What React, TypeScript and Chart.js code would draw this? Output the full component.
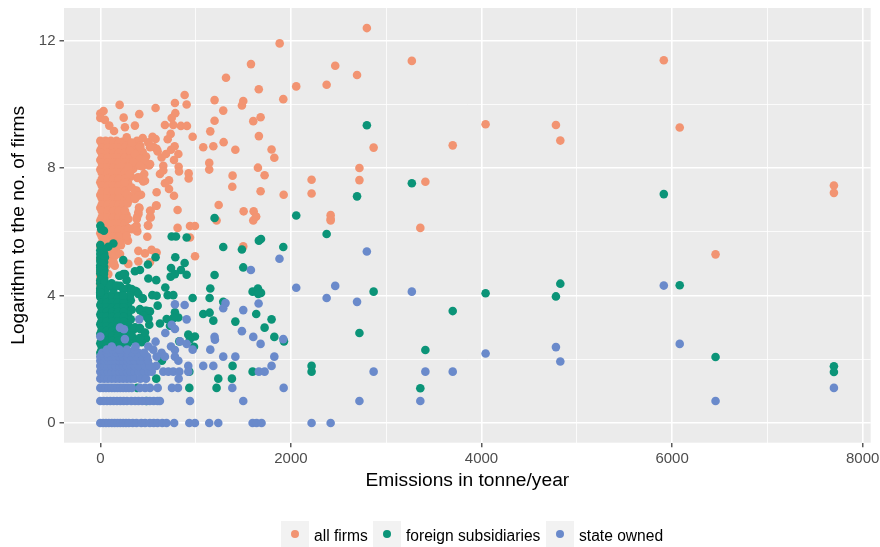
import React, { useEffect, useRef } from "react";
import { Chart, registerables } from "chart.js";

Chart.register(...registerables);

type P = [number, number];

const xMajorTicks = [0, 2000, 4000, 6000, 8000];
const xMinorTicks = [1000, 3000, 5000, 7000];
const yMajorTicks = [0, 4, 8, 12];
const yMinorTicks = [2, 6, 10];
const seriesNames = ["all firms", "foreign subsidiaries", "state owned"];
const seriesColors = ["#F29472", "#0B9478", "#6A8ACB"];

const allFirmsSparse: P[] = [
  [2797,12.39],[3269,11.36],[2694,10.92],[5913,11.38],[2868,8.64],[3698,8.71],[4043,9.37],[4781,9.35],[4827,8.86],[6080,9.27],
  [2719,8.0],[2719,7.62],[3411,7.57],[7698,7.45],[7698,7.22],[3358,6.12],[6456,5.29],
  [1882,11.91],[1581,11.26],[2465,11.21],[1319,10.83],[2056,10.56],[2375,10.61],[1663,10.47],[1920,10.16],[885,10.29],[1199,10.13],
  [1500,10.10],[1486,9.96],[783,10.04],[906,9.99],[203,9.98],[580,9.88],[1290,9.80],[34,9.79],[0,9.71],[409,9.69],[787,9.72],
  [0,9.57],[245,9.58],[48,9.51],[749,9.57],[1682,9.59],[1605,9.47],[1199,9.48],[94,9.33],[363,9.33],[258,9.28],[144,9.16],
  [678,9.35],[766,9.35],[846,9.32],[909,9.32],[738,9.07],[969,8.98],[707,8.90],[1154,9.15],[1664,9.0],[1294,8.81],[1080,8.65],
  [1186,8.68],[1417,8.57],[1797,8.58],[1826,8.32],[780,8.68],[742,8.57],[819,8.44],[773,8.25],[1143,8.16],[1143,7.95],[1654,8.01],
  [1724,7.77],[1388,7.76],[1385,7.41],[1682,7.27],[1924,7.16],[2217,7.63],[2217,7.20],[2417,6.52],[2417,6.40],[1242,6.84],
  [1504,6.64],[1609,6.64],[1634,6.48],[822,8.04],[826,7.89],[927,7.83],[927,7.67],[591,7.24],[773,7.13],[721,7.34],[721,7.61],
  [678,7.52],[661,8.07],[661,7.92],[626,7.81],[643,8.33],[689,8.44],[591,8.60],[602,8.52],[580,8.91],[548,8.98],[445,8.94],
  [511,8.08],[441,8.05],[461,7.81],[434,7.71],[451,7.58],[388,7.69],[381,7.29],[427,7.16],[360,7.05],[286,6.89],[406,6.76],
  [399,6.61],[385,6.45],[528,6.66],[521,6.45],[591,6.82],[811,6.68],[811,6.12],[941,6.18],[993,6.18],[500,6.2],[381,6.19],
  [388,6.01],[493,5.84],[941,5.82],[290,5.72],[217,5.58],[399,5.40],[469,5.32],[538,5.43],[591,5.35],[994,5.23],[399,5.07],
  [294,4.99],[137,5.04],[521,5.04],[66,4.69],[1500,5.54],[1220,6.35],[1605,6.35],[1634,6.47],[2417,6.35],[154,5.30],
  [277,8.96],[329,8.8],[504,8.8],[417,8.65],[522,8.65],[312,8.54],[364,8.44],[417,8.28],[469,8.23],[522,8.12],[347,8.18],
  [294,8.02],[417,8.07],[312,7.81],[259,7.55],[329,7.39],[277,7.18],[312,7.03],[259,6.66],[294,6.4],[329,6.08],[294,6.08],
  [277,5.87],[364,6.14],[382,6.03],[410,6.74],[399,6.55],[382,6.4],[522,6.66],[529,6.45],[585,6.82],[504,6.19],[364,7.29],
  [399,7.13],[364,7.03],[434,7.65],[469,7.6],[399,7.71],[154,5.25],[207,5.3],[137,5.04],[84,4.67],
];

const allFirmsDense: P[] = [
  [0,8.85],[55,8.85],[110,8.85],[170,8.85],[230,8.82],[290,8.82],[385,8.85],[505,8.8],
  [30,8.7],[90,8.72],[150,8.68],[210,8.7],[270,8.74],[340,8.66],[420,8.7],[560,8.66],
  [0,8.55],[60,8.55],[120,8.55],[180,8.55],[240,8.58],[300,8.52],[360,8.56],[445,8.5],
  [30,8.4],[90,8.4],[150,8.4],[210,8.4],[270,8.42],[330,8.38],[400,8.42],[480,8.36],
  [0,8.25],[60,8.25],[120,8.25],[180,8.25],[240,8.25],[300,8.25],[360,8.22],[430,8.28],
  [30,8.1],[90,8.1],[150,8.1],[210,8.1],[270,8.1],[330,8.12],[392,8.08],
  [0,7.95],[60,7.95],[120,7.95],[180,7.95],[240,7.95],[300,7.93],[345,7.97],
  [30,7.75],[90,7.75],[150,7.75],[210,7.75],[270,7.77],[318,7.73],
  [0,7.55],[60,7.55],[120,7.55],[180,7.55],[240,7.55],[292,7.53],
  [30,7.35],[90,7.35],[150,7.35],[210,7.35],[272,7.36],
  [0,7.15],[60,7.15],[120,7.15],[180,7.15],[240,7.15],[305,7.13],
  [30,6.95],[90,6.95],[150,6.95],[210,6.95],[262,6.97],
  [0,6.75],[60,6.75],[120,6.75],[180,6.75],[240,6.75],
  [30,6.55],[90,6.55],[150,6.55],[210,6.55],[275,6.53],
  [0,6.35],[60,6.35],[120,6.35],[180,6.35],[242,6.36],
  [30,6.15],[90,6.15],[150,6.15],[210,6.15],[283,6.13],
  [0,5.95],[60,5.95],[120,5.95],[180,5.95],[244,5.93],
  [30,5.75],[90,5.75],[150,5.75],[222,5.78],
  [0,5.55],[60,5.55],[120,5.55],[172,5.52],
  [30,5.35],[90,5.35],[128,5.33],
  [0,5.15],[58,5.15],[102,5.17],
  [22,4.95],[72,4.96],[152,4.93],
  [0,4.75],[42,4.72],[10,4.55],[0,4.35],[0,4.2],
];

const allFirmsFill: P[] = [
  [15,8.78],[75,8.78],[135,8.78],[195,8.78],[255,8.78],
  [15,8.63],[75,8.63],[135,8.63],[195,8.63],[255,8.63],[315,8.63],
  [15,8.47],[75,8.47],[135,8.47],[195,8.47],[255,8.47],[315,8.47],[380,8.47],
  [15,8.32],[75,8.32],[135,8.32],[195,8.32],[255,8.32],[315,8.32],[375,8.32],
  [15,8.17],[75,8.17],[135,8.17],[195,8.17],[255,8.17],[315,8.17],[375,8.17],
  [15,8.02],[75,8.02],[135,8.02],[195,8.02],[255,8.02],[315,8.02],
  [15,7.85],[75,7.85],[135,7.85],[195,7.85],[255,7.85],[300,7.85],
  [15,7.65],[75,7.65],[135,7.65],[195,7.65],[255,7.65],
  [15,7.45],[75,7.45],[135,7.45],[195,7.45],[255,7.45],
  [15,7.25],[75,7.25],[135,7.25],[195,7.25],[255,7.25],
  [15,7.05],[75,7.05],[135,7.05],[195,7.05],[255,7.05],
  [15,6.85],[75,6.85],[135,6.85],[195,6.85],[240,6.85],
  [15,6.65],[75,6.65],[135,6.65],[195,6.65],[250,6.65],
  [15,6.45],[75,6.45],[135,6.45],[195,6.45],[250,6.45],
  [15,6.25],[75,6.25],[135,6.25],[195,6.25],[255,6.25],
  [15,6.05],[75,6.05],[135,6.05],[195,6.05],[255,6.05],
  [15,5.85],[75,5.85],[135,5.85],[195,5.85],
  [15,5.65],[75,5.65],[135,5.65],[190,5.65],
  [15,5.45],[75,5.45],[135,5.45],
  [15,5.25],[75,5.25],[120,5.25],
  [15,5.05],[75,5.05],[110,5.05],
  [15,4.85],[50,4.85],[0,4.62],[0,4.48],
];

const foreignSparse: P[] = [
  [2797,9.34],[3269,7.52],[5913,7.18],[2694,7.11],[4827,4.37],[6080,4.32],[2868,4.12],[4043,4.07],[4781,3.97],[3698,3.51],
  [2719,2.82],[3411,2.29],[6456,2.07],[7698,1.78],[7698,1.60],[3358,1.09],
  [1199,6.43],[2056,6.51],[2375,5.93],[1664,5.72],[1686,5.77],[1920,5.52],[1290,5.52],[1486,5.44],
  [0,6.19],[10,6.08],[38,6.03],[749,5.85],[794,5.85],[906,5.82],[0,5.58],[137,5.63],[84,5.53],[31,5.46],[0,5.3],[48,5.2],
  [580,5.2],[787,5.2],[500,4.97],[241,5.11],[885,5.02],[1500,4.88],[742,4.86],[846,4.80],[416,4.8],[363,4.76],
  [17,5.01],[0,4.8],[38,4.67],[1199,4.64],[738,4.59],[783,4.67],[906,4.65],[241,4.67],[199,4.62],[276,4.48],
  [504,4.53],[587,4.48],[0,4.48],[48,4.41],[119,4.38],[207,4.3],[682,4.25],[1154,4.22],[0,4.23],[0,4.1],[294,4.23],[381,4.12],[137,4.2],
  [1654,4.22],[1598,4.12],[1686,4.08],[1657,4.05],[546,4.01],[591,3.99],[707,4.01],[766,4.01],[969,3.92],[1147,3.92],[445,3.90],
  [1290,3.80],[602,3.68],[783,3.47],[1080,3.42],[1147,3.46],[416,3.57],[521,3.5],[469,3.52],[819,3.31],[696,3.26],[766,3.29],[626,3.12],
  [1186,3.21],[1636,3.42],[1797,3.25],[1417,3.18],[1724,2.99],[514,3.08],[469,3.37],[504,3.29],[731,3.05],[923,2.77],[993,2.71],
  [1826,2.7],[1927,2.56],[941,2.63],[829,2.56],[983,2.39],[479,2.65],[374,2.56],[416,2.98],[346,2.92],[434,2.53],
  [647,1.95],[1388,1.79],[2217,1.79],[2217,1.61],[1598,1.61],[1238,1.39],[1381,1.39],[587,1.39],[934,1.61],[934,1.10],[1220,1.10],[388,1.10],[451,1.61],[486,0.69],
  [207,4.62],[259,4.67],[102,4.31],[172,4.31],[242,4.2],[329,4.2],[364,4.15],[399,4.05],[312,4.0],[242,4.0],
  [445,3.91],[417,3.54],[487,3.52],[452,3.37],[504,3.26],[364,3.0],[417,2.95],[347,2.67],[417,2.67],[469,2.84],[312,2.74],
];

const foreignDense: P[] = [
  [0,4.0],[50,4.0],[110,4.0],[170,4.0],[230,4.02],[302,3.98],
  [25,3.85],[80,3.85],[140,3.85],[200,3.85],[262,3.87],[320,3.85],
  [0,3.7],[50,3.7],[110,3.7],[170,3.7],[232,3.68],[290,3.7],
  [25,3.55],[80,3.55],[140,3.55],[200,3.55],[272,3.53],[330,3.55],
  [0,3.4],[50,3.4],[110,3.4],[170,3.4],[228,3.42],[290,3.4],
  [25,3.25],[80,3.25],[140,3.25],[200,3.25],[252,3.27],[320,3.25],
  [0,3.1],[50,3.1],[110,3.1],[170,3.1],[230,3.08],[290,3.1],
  [25,2.95],[80,2.95],[140,2.95],[200,2.95],[300,2.93],[260,2.95],
  [0,2.8],[50,2.8],[110,2.8],[170,2.8],[250,2.82],[310,2.8],
  [25,2.65],[80,2.65],[140,2.65],[200,2.65],[260,2.65],
  [0,2.5],[50,2.5],[110,2.5],[170,2.5],[230,2.48],[290,2.5],
  [25,2.35],[80,2.35],[140,2.35],[200,2.35],[260,2.35],
  [0,2.2],[50,2.2],[110,2.2],[170,2.2],
  [0,3.95],[0,4.15],[30,4.1],[0,4.7],[15,4.6],[0,4.95],[20,5.1],
];

const foreignFill: P[] = [
  [12,3.93],[65,3.93],[125,3.93],[185,3.93],[245,3.93],
  [12,3.78],[65,3.78],[125,3.78],[185,3.78],[245,3.78],
  [12,3.63],[65,3.63],[125,3.63],[185,3.63],[245,3.63],
  [12,3.48],[65,3.48],[125,3.48],[185,3.48],[245,3.48],
  [12,3.33],[65,3.33],[125,3.33],[185,3.33],[245,3.33],
  [12,3.18],[65,3.18],[125,3.18],[185,3.18],[245,3.18],
  [12,3.03],[65,3.03],[125,3.03],[185,3.03],[245,3.03],
  [12,2.88],[65,2.88],[125,2.88],[185,2.88],[235,2.88],
  [12,2.73],[65,2.73],[125,2.73],[185,2.73],
  [12,2.58],[65,2.58],[125,2.58],[185,2.58],[245,2.58],
  [12,2.43],[65,2.43],[125,2.43],[185,2.43],
  [12,2.28],[65,2.28],[125,2.28],[185,2.28],
  [0,5.42],[40,5.32],[0,5.18],[40,5.05],[0,5.08],[40,4.9],[0,4.88],[42,4.78],[10,4.55],[40,4.53],[0,4.38],[40,4.3],[55,4.18],[0,4.05],
];

const stateSparse: P[] = [
  [2797,5.38],[5913,4.31],[3269,4.12],[2694,3.80],[6080,2.48],[4781,2.38],[4043,2.18],[4827,1.93],
  [2868,1.61],[3411,1.61],[3698,1.61],[7698,1.10],[2719,0.69],[3358,0.69],[6456,0.69],
  [1880,5.15],[1580,4.8],[2056,4.24],[2465,4.30],[2375,3.92],[1314,3.76],[1290,3.6],[1661,3.75],[783,3.72],[885,3.70],
  [1500,3.54],[906,3.25],[409,3.25],[207,2.99],[248,2.94],[749,3.08],[783,2.95],[682,2.82],[1486,2.88],[0,2.71],[258,2.63],
  [1199,2.7],[1203,2.61],[1605,2.7],[1682,2.48],[1920,2.63],[580,2.55],[836,2.56],[906,2.48],[969,2.3],[1154,2.3],[742,2.4],[783,2.29],
  [504,2.4],[556,2.3],[1290,2.08],[1417,2.08],[1826,2.08],[643,2.2],[591,2.08],[678,2.08],[783,2.08],[819,1.95],
  [923,1.79],[1080,1.79],[1186,1.79],[1797,1.79],[587,1.79],[923,1.61],[661,1.61],[714,1.61],[766,1.61],[829,1.61],[1664,1.61],[1724,1.61],
  [822,1.39],[752,1.10],[815,1.10],[602,1.10],[521,1.10],[470,1.10],[416,1.10],[1385,1.10],[1924,1.10],[941,0.69],[1500,0.69],
  [0,0],[30,0],[60,0],[90,0],[120,0],[150,0],[180,0],[210,0],[240,0],[270,0],[300,0],[340,0],[380,0],[430,0],[470,0],[520,0],[560,0],[600,0],[650,0],[695,0],
  [775,0],[934,0],[993,0],[1143,0],[1238,0],[1598,0],[1640,0],[1692,0],[2217,0],[2417,0],
  [0,0.69],[35,0.69],[70,0.69],[105,0.69],[140,0.69],[175,0.69],[210,0.69],[245,0.69],[280,0.69],[325,0.69],[365,0.69],[400,0.69],[440,0.69],[480,0.69],[520,0.69],[560,0.69],[600,0.69],[625,0.69],
  [0,1.10],[30,1.10],[60,1.10],[90,1.10],[120,1.10],[150,1.10],[180,1.10],[210,1.10],[240,1.10],[270,1.10],[300,1.10],[330,1.10],
  [0,1.39],[40,1.39],[80,1.39],[120,1.39],[160,1.39],[200,1.39],[240,1.39],[280,1.39],[320,1.39],[360,1.39],[420,1.39],[480,1.39],
  [0,1.61],[40,1.61],[80,1.61],[120,1.61],[160,1.61],[200,1.61],[240,1.61],[280,1.61],[320,1.61],[360,1.61],[400,1.61],[460,1.61],[505,1.61],[540,1.61],
  [0,1.79],[40,1.79],[80,1.79],[120,1.79],[160,1.79],[200,1.79],[240,1.79],[280,1.79],[320,1.79],[360,1.79],[400,1.79],[470,1.79],[520,1.79],
  [0,1.95],[40,1.95],[80,1.95],[120,1.95],[160,1.95],[200,1.95],[240,1.95],[280,1.95],[320,1.95],[360,1.95],[420,1.95],[500,1.95],
  [0,2.08],[40,2.08],[80,2.08],[120,2.08],[160,2.08],[200,2.08],[240,2.08],[280,2.08],[330,2.08],[380,2.08],[440,2.08],[490,2.08],
  [20,2.2],[70,2.2],[120,2.2],[170,2.2],[220,2.2],[280,2.2],[340,2.2],[400,2.2],[460,2.2],
  [70,2.3],[130,2.3],[200,2.3],[280,2.3],[360,2.3],[120,2.4],[370,2.4],
];

const allFirms = [...allFirmsDense, ...allFirmsFill, ...allFirmsSparse];
const foreign = [...foreignDense, ...foreignFill, ...foreignSparse];
const stateOwned = stateSparse;

const toXY = (pts: P[]) => pts.map(([x, y]) => ({ x, y }));

const LEFT = 64;
const RIGHT = 870.7;
const TOP = 8;
const BOTTOM = 442.7;

const panelBg = {
  id: "panelBg",
  beforeDraw(chart: any) {
    const { ctx, chartArea: a } = chart;
    ctx.save();
    ctx.fillStyle = "#EBEBEB";
    ctx.fillRect(a.left, a.top, a.right - a.left, a.bottom - a.top);
    ctx.restore();
  },
};

const legendKeys = [
  { left: 281, textLeft: 314 },
  { left: 373, textLeft: 406 },
  { left: 546, textLeft: 579 },
];

export default function App() {
  const ref = useRef<HTMLCanvasElement>(null);
  useEffect(() => {
    const gridFor = (major: number[]) => ({
      color: "#FFFFFF",
      lineWidth: (c: any) => (major.includes(c.tick?.value) ? 1.6 : 0.8),
      tickColor: (c: any) => (major.includes(c.tick?.value) ? "#333333" : "rgba(0,0,0,0)"),
      tickWidth: 1.2,
      tickLength: 4.5,
      drawTicks: true,
    });
    const fmt = (major: number[]) => (v: any) => (major.includes(Number(v)) ? String(v) : "");
    const family = "'Liberation Sans', Arial, sans-serif";
    const tickFont = { family, size: 15 };
    const chart = new Chart(ref.current as HTMLCanvasElement, {
      type: "scatter",
      data: {
        datasets: [
          { label: seriesNames[0], data: toXY(allFirms), backgroundColor: seriesColors[0], order: 3 },
          { label: seriesNames[1], data: toXY(foreign), backgroundColor: seriesColors[1], order: 2 },
          { label: seriesNames[2], data: toXY(stateOwned), backgroundColor: seriesColors[2], order: 1 },
        ],
      },
      options: {
        responsive: false,
        animation: false,
        devicePixelRatio: 1,
        layout: { padding: { left: 0, top: TOP, right: 880 - RIGHT, bottom: 0 } },
        elements: { point: { radius: 4.3, borderWidth: 0, hoverRadius: 4.3 } },
        plugins: { legend: { display: false }, tooltip: { enabled: false } },
        scales: {
          x: {
            type: "linear",
            min: -381,
            max: 8084,
            grid: gridFor(xMajorTicks) as any,
            border: { display: false },
            afterBuildTicks: (s: any) => {
              s.ticks = [...xMajorTicks, ...xMinorTicks].sort((a, b) => a - b).map((value) => ({ value }));
            },
            afterFit: (s: any) => {
              s.height = 547 - BOTTOM;
              s.paddingLeft = 0;
              s.paddingRight = 0;
            },
            ticks: {
              autoSkip: false,
              maxRotation: 0,
              color: "#4D4D4D",
              font: tickFont,
              padding: 3,
              callback: fmt(xMajorTicks),
            },
            title: {
              display: true,
              text: "Emissions in tonne/year",
              color: "#000000",
              font: { family, size: 19.2 },
              padding: { top: 0, bottom: 55 },
            },
          },
          y: {
            type: "linear",
            min: -0.62,
            max: 13.02,
            grid: gridFor(yMajorTicks) as any,
            border: { display: false },
            afterBuildTicks: (s: any) => {
              s.ticks = [...yMajorTicks, ...yMinorTicks].sort((a, b) => a - b).map((value) => ({ value }));
            },
            afterFit: (s: any) => {
              s.width = LEFT;
              s.paddingTop = 0;
              s.paddingBottom = 0;
            },
            ticks: {
              autoSkip: false,
              color: "#4D4D4D",
              font: tickFont,
              padding: 4,
              callback: fmt(yMajorTicks),
            },
            title: {
              display: true,
              text: "Logarithm to the no. of firms",
              color: "#000000",
              font: { family, size: 19.2 },
              padding: { top: 7, bottom: 0 },
            },
          },
        },
      },
      plugins: [panelBg],
    });
    return () => chart.destroy();
  }, []);

  return (
    <div style={{ position: "absolute", left: 0, top: 0, width: 880, height: 547, background: "#fff", overflow: "hidden" }}>
      <canvas ref={ref} width={880} height={547} style={{ display: "block" }} />
      {seriesNames.map((name, i) => (
        <React.Fragment key={name}>
          <div
            style={{
              position: "absolute",
              left: legendKeys[i].left,
              top: 521,
              width: 28,
              height: 26,
              background: "#F2F2F2",
            }}
          >
            <div
              style={{
                position: "absolute",
                left: 10,
                top: 9,
                width: 8,
                height: 8,
                borderRadius: "50%",
                background: seriesColors[i],
              }}
            />
          </div>
          <div
            style={{
              position: "absolute",
              left: legendKeys[i].textLeft,
              top: 526,
              lineHeight: "20px",
              fontFamily: "'Liberation Sans', Arial, sans-serif",
              fontSize: 15.6,
              color: "#000",
              whiteSpace: "nowrap",
            }}
          >
            {name}
          </div>
        </React.Fragment>
      ))}
    </div>
  );
}
